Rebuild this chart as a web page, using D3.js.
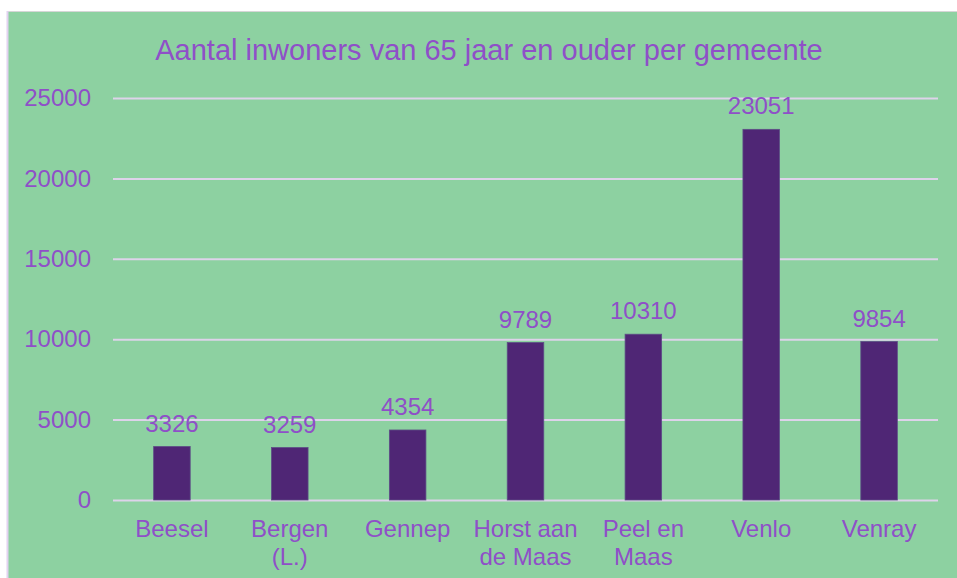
<!DOCTYPE html>
<html><head><meta charset="utf-8">
<script src="https://cdn.jsdelivr.net/npm/d3@7"></script>
<style>html,body{margin:0;padding:0;background:#fff;}svg{display:block;}</style>
</head><body>
<svg id="c" width="957" height="578"></svg>
<script>
const categories = [["Beesel"],["Bergen","(L.)"],["Gennep"],["Horst aan","de Maas"],["Peel en","Maas"],["Venlo"],["Venray"]];
const values = [3326, 3259, 4354, 9789, 10310, 23051, 9854];
const yTicks = [0, 5000, 10000, 15000, 20000, 25000];
const title = "Aantal inwoners van 65 jaar en ouder per gemeente";

const svg = d3.select("#c");
const textCol = "#8f4fc8", barCol = "#4f2675", gridCol = "#ddd3ea", bg = "#8dd1a1";
const font = "'Liberation Sans', Arial, sans-serif";

svg.append("rect").attr("x",7).attr("y",11).attr("width",950).attr("height",567).attr("fill",bg);
svg.append("line").attr("x1",7).attr("x2",957).attr("y1",11.5).attr("y2",11.5).attr("stroke","#d6d6d6").attr("stroke-width",1);
svg.append("line").attr("x1",7.5).attr("x2",7.5).attr("y1",11).attr("y2",578).attr("stroke","#e2d2f0").attr("stroke-width",2);

const m = {left:113, right:938, top:98, bottom:500};
const x = d3.scaleBand().domain(categories.map((d,i)=>i)).range([m.left,m.right]).paddingInner(0.69).paddingOuter(0.345);
const y = d3.scaleLinear().domain([0,25000]).range([m.bottom,m.top]);

svg.append("text").attr("x",489).attr("y",60).attr("text-anchor","middle").attr("font-family",font).attr("font-size",29).attr("fill",textCol).text(title);

const yAxis = d3.axisLeft(y).tickValues(yTicks).tickSize(-(m.right-m.left)).tickPadding(22).tickFormat(d3.format("d"));
const gy = svg.append("g").attr("transform",`translate(${m.left},0)`).call(yAxis);
gy.select(".domain").remove();
gy.selectAll(".tick line").attr("stroke",gridCol).attr("stroke-width",2);
gy.selectAll(".tick text").attr("font-family",font).attr("font-size",24).attr("fill",textCol);

svg.append("g").selectAll("rect").data(values).join("rect")
  .attr("x",(d,i)=>x(i)).attr("width",x.bandwidth())
  .attr("y",d=>y(d)).attr("height",d=>y(0)-y(d))
  .attr("fill",barCol).attr("stroke","#5d4d86").attr("stroke-width",0.8);

svg.append("g").selectAll("text").data(values).join("text")
  .attr("x",(d,i)=>x(i)+x.bandwidth()/2).attr("y",d=>y(d)-15)
  .attr("text-anchor","middle").attr("font-family",font).attr("font-size",24).attr("fill",textCol)
  .text(d=>d);

const xl = svg.append("g").selectAll("text").data(categories).join("text")
  .attr("x",(d,i)=>x(i)+x.bandwidth()/2).attr("y",537)
  .attr("text-anchor","middle").attr("font-family",font).attr("font-size",24).attr("fill",textCol);
xl.each(function(d,i){
  const t = d3.select(this);
  d.forEach((line,j)=>t.append("tspan").attr("x",x(i)+x.bandwidth()/2).attr("dy",j===0?0:28).text(line));
});
</script>
</body></html>
